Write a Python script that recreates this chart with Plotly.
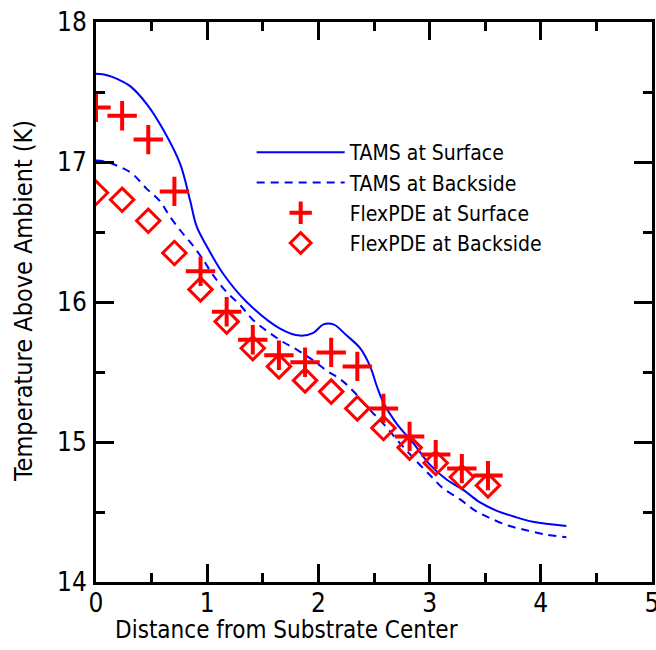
import plotly.graph_objects as go

# FlexPDE sample positions and values
flex_x = [0.0, 0.235, 0.47, 0.705, 0.94, 1.175, 1.41, 1.645, 1.88, 2.115,
          2.35, 2.585, 2.82, 3.055, 3.29, 3.525]
flex_surface = [17.39, 17.33, 17.16, 16.79, 16.22, 15.93, 15.73, 15.62, 15.57, 15.64,
                15.54, 15.24, 15.04, 14.91, 14.81, 14.76]
flex_backside = [16.78, 16.73, 16.58, 16.35, 16.09, 15.86, 15.67, 15.54, 15.44, 15.36,
                 15.24, 15.10, 14.96, 14.85, 14.75, 14.69]

# TAMS curves
tams_surf_x = [0.0, 0.1, 0.2, 0.31, 0.46, 0.605, 0.755, 0.845, 0.905, 0.995, 1.145,
               1.355, 1.655, 1.835, 1.955, 2.045, 2.135, 2.255, 2.375, 2.465, 2.525,
               2.585, 2.705, 2.855, 3.0, 3.155, 3.3, 3.45, 3.6, 3.75, 3.93, 4.23]
tams_surf_y = [17.63, 17.62, 17.59, 17.54, 17.41, 17.23, 16.99, 16.73, 16.54, 16.40,
               16.20, 16.00, 15.81, 15.76, 15.78, 15.84, 15.84, 15.76, 15.67, 15.54,
               15.40, 15.28, 15.13, 14.99, 14.84, 14.73, 14.66, 14.57, 14.51, 14.47,
               14.43, 14.40]

tams_back_x = [0.0, 0.1, 0.2, 0.32, 0.455, 0.575, 0.665, 0.77, 0.875, 0.965, 1.055,
               1.175, 1.295, 1.415, 1.67, 1.805, 1.94, 2.075, 2.21, 2.33, 2.45, 2.585,
               2.735, 2.885, 3.02, 3.12, 3.275, 3.41, 3.56, 3.72, 3.87, 4.04, 4.23]
tams_back_y = [17.01, 17.00, 16.97, 16.92, 16.81, 16.72, 16.61, 16.50, 16.40, 16.30,
               16.19, 16.07, 15.98, 15.87, 15.72, 15.66, 15.59, 15.51, 15.44, 15.35,
               15.24, 15.13, 14.99, 14.86, 14.75, 14.67, 14.59, 14.51, 14.45, 14.40,
               14.37, 14.34, 14.32]

x_ticks = [0, 1, 2, 3, 4, 5]
y_ticks = [14, 15, 16, 17, 18]
x_title = "Distance from Substrate Center"
y_title = "Temperature Above Ambient (K)"

FONT = "Liberation Sans Narrow, DejaVu Sans Condensed, Arial Narrow, Liberation Sans, sans-serif"
BLUE = "rgb(0,0,255)"
RED = "rgb(255,0,0)"

fig = go.Figure()
fig.add_trace(go.Scatter(x=tams_surf_x, y=tams_surf_y, mode="lines", name="TAMS at Surface",
                         line=dict(color=BLUE, width=2), line_shape="spline", legendgroup="a"))
fig.add_trace(go.Scatter(x=tams_back_x, y=tams_back_y, mode="lines", name="TAMS at Backside",
                         line=dict(color=BLUE, width=2, dash="8px,6px"), line_shape="spline", legendgroup="b"))
fig.add_trace(go.Scatter(x=flex_x, y=flex_surface, mode="markers", name="FlexPDE at Surface",
                         marker=dict(symbol="cross-thin", size=21, line=dict(color=RED, width=4), color=RED),
                         legendgroup="c"))
fig.add_trace(go.Scatter(x=flex_x, y=flex_backside, mode="markers", name="FlexPDE at Backside",
                         marker=dict(symbol="diamond-open", size=18, line=dict(color=RED, width=3), color=RED),
                         legendgroup="d"))

axis_common = dict(
    showgrid=False, zeroline=False, showline=True, linecolor="black", linewidth=3,
    mirror="allticks", ticks="inside", ticklen=18, tickwidth=3, tickcolor="black",
    tickfont=dict(family=FONT, size=26, color="black"), automargin=False,
    ticklabeloverflow="allow",
)
fig.update_xaxes(range=[0, 5], tickvals=x_ticks, ticktext=[str(v) for v in x_ticks],
                 minor=dict(tickvals=[0.5, 1.5, 2.5, 3.5, 4.5], ticks="inside", ticklen=9,
                            tickwidth=3, tickcolor="black"),
                 ticklabelstandoff=-4,
                 **axis_common)
fig.update_yaxes(range=[14, 18], tickvals=y_ticks, ticktext=[str(v) for v in y_ticks],
                 minor=dict(tickvals=[14.5, 15.5, 16.5, 17.5], ticks="inside", ticklen=9,
                            tickwidth=3, tickcolor="black"),
                 ticklabelstandoff=1,
                 **axis_common)

fig.add_annotation(text=x_title, xref="paper", yref="paper", x=0.3435, y=-0.0866,
                   xanchor="center", yanchor="middle", showarrow=False,
                   font=dict(family=FONT, size=24, color="black"))
fig.add_annotation(text=y_title, xref="paper", yref="paper", x=-0.1295, y=0.502,
                   xanchor="center", yanchor="middle", showarrow=False, textangle=-90,
                   font=dict(family=FONT, size=25, color="black"))

fig.update_layout(
    width=656, height=650,
    margin=dict(l=96, r=4, t=22, b=68),
    paper_bgcolor="white", plot_bgcolor="white",
    showlegend=True,
    legend=dict(x=0.28, y=0.8036, xanchor="left", yanchor="top", itemwidth=88,
                bgcolor="rgba(0,0,0,0)", font=dict(family=FONT, size=21, color="black"),
                tracegroupgap=0, traceorder="normal"),
)

fig.write_html("out.html", config={"displayModeBar": False},
               post_script="document.body.style.margin='0';document.body.style.overflow='hidden';")
